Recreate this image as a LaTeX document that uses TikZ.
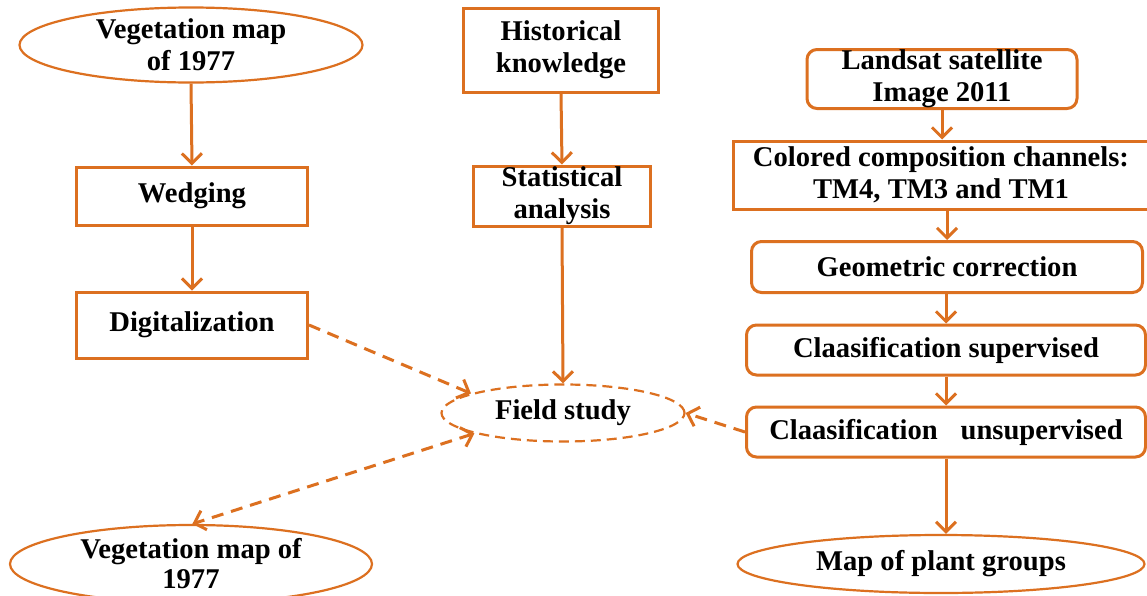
\documentclass[tikz,border=0pt]{standalone}
\usepackage{fontspec}
\setmainfont{Liberation Serif}
\usetikzlibrary{shapes.geometric,arrows.meta}
\definecolor{org}{RGB}{220,112,32}
\tikzset{
  base/.style={font=\fontsize{14.3}{16}\selectfont\bfseries, align=center, inner sep=0pt, text=black},
  sqbox/.style={base, draw=org, line width=1.5pt, rectangle},
  rbox/.style={base, draw=org, line width=1.5pt, rectangle, rounded corners=5pt},
  ell/.style={base, draw=org, line width=1.1pt, ellipse},
  dell/.style={ell, dash pattern=on 5pt off 3pt},
  arr/.style={draw=org, line width=1.5pt, -{Straight Barb[length=5pt,width=10pt]}},
  darr/.style={arr, dash pattern=on 6pt off 4pt},
}
\begin{document}
\begin{tikzpicture}[x=0.5pt,y=-0.5pt]
\useasboundingbox (0,0) rectangle (1147,595);
\fill[white] (0,0) rectangle (1147,595);
% left column
\node[ell, minimum width=171.5pt, minimum height=37.5pt] (veg1) at (191,45) {Vegetation map\\of 1977};
\node[sqbox, minimum width=115.5pt, minimum height=29pt] (wedg) at (192,196) {Wedging};
\node[sqbox, minimum width=115.5pt, minimum height=33pt] (digi) at (192,325) {Digitalization};
\node[ell, minimum width=181pt, minimum height=39pt] (veg2) at (191,564) {Vegetation map of\\[-1pt]1977};
% middle column
\node[sqbox, minimum width=97.5pt, minimum height=42pt] (hist) at (561,50) {Historical\\knowledge};
\node[sqbox, minimum width=88.5pt, minimum height=30pt] (stat) at (562,196) {Statistical\\analysis};
\node[dell, minimum width=121.5pt, minimum height=28.5pt] (field) at (563,413) {Field study};
% right column
\node[rbox, minimum width=135pt, minimum height=29.5pt] (land) at (942,79) {Landsat satellite\\Image 2011};
\node[sqbox, minimum width=208pt, minimum height=34pt] (col) at (941,175) {Colored composition channels:\\TM4, TM3 and TM1};
\node[rbox, minimum width=195.5pt, minimum height=25.5pt] (geo) at (947,267) {Geometric correction};
\node[rbox, minimum width=199.5pt, minimum height=25pt] (sup) at (946,350) {Claasification supervised};
\node[rbox, minimum width=199.5pt, minimum height=25pt] (unsup) at (946,432) {Claasification\hspace{0.55em} unsupervised};
\node[ell, minimum width=203.5pt, minimum height=29pt] (plant) at (941,564) {Map of plant groups};
% solid arrows
\draw[arr] (veg1.south) -- (wedg.north);
\draw[arr] (wedg.south) -- (digi.north);
\draw[arr] (hist.south) -- (stat.north);
\draw[arr] (stat.south) -- (field.north);
\draw[arr] (land.south) -- (land.south |- col.north);
\draw[arr] (col.south -| geo.north) -- (geo.north);
\draw[arr] (sup.north |- geo.south) -- (sup.north);
\draw[arr] (sup.south) -- (unsup.north);
\draw[arr] (unsup.south) -- (unsup.south |- plant.north);
% dashed arrows
\draw[darr] (digi.east) -- (field.168);
\draw[darr] (unsup.west) -- (field.east);
\draw[darr, {Straight Barb[length=5pt,width=10pt]}-{Straight Barb[length=5pt,width=10pt]}] (field.193) -- (veg2.88);
\end{tikzpicture}
\end{document}
